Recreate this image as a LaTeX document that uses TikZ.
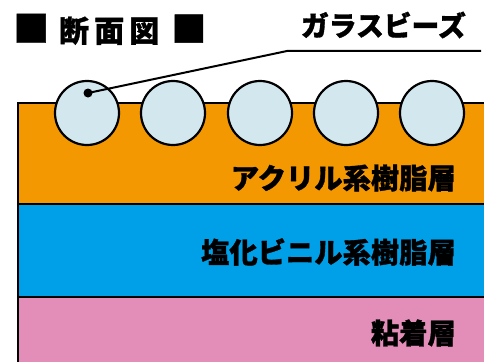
\documentclass[tikz,border=0pt]{standalone}
\usepackage{fontspec}
\newfontfamily\jpfont{Noto Sans CJK JP}[BoldFeatures={FakeBold=1.2}]
\definecolor{acryl}{HTML}{F39800}
\definecolor{vinyl}{HTML}{00A0E9}
\definecolor{adhesive}{HTML}{E38DB9}
\definecolor{glass}{HTML}{D3E7EF}

\begin{document}
\begin{tikzpicture}[x=1pt,y=-1pt,
  layer/.style={draw=black,line width=2pt},
  bead/.style={shape=circle,draw=black,fill=glass,line width=2.2pt,minimum size=64pt,inner sep=0pt},
  layertext/.style={anchor=east,inner sep=0pt,font=\jpfont\bfseries\fontsize{28.3}{28.3}\selectfont}]
\clip (0,0) rectangle (484,361);
\fill[white] (0,0) rectangle (484,361);

\filldraw[layer,fill=acryl] (18,103) rectangle (500,204);
\filldraw[layer,fill=vinyl] (18,204) rectangle (500,297);
\filldraw[layer,fill=adhesive] (18,297) rectangle (500,380);

\node[layertext] (acryltext) at (456,178) {アクリル系樹脂層};
\node[layertext] (vinyltext) at (456,252) {塩化ビニル系樹脂層};
\node[layertext] (adhesivetext) at (456,333) {粘着層};

\node[bead] (1) at (87,113) {};
\node[bead] (2) at (173,113) {};
\node[bead] (3) at (260,113) {};
\node[bead] (4) at (346,113) {};
\node[bead] (5) at (432,113) {};

\node[shape=circle,fill=black,minimum size=9pt,inner sep=0pt] (dot) at (88,93) {};
\coordinate (bend) at (287,51);
\coordinate (lineend) at (481,51);
\draw[line width=2pt] (dot.center) -- (bend) -- (lineend);

\node[layertext,font=\jpfont\bfseries\fontsize{27.8}{27.8}\selectfont] (beadtext) at (466,25) {ガラスビーズ};
\node[anchor=base west,inner sep=0pt,font=\jpfont\bfseries\fontsize{30}{30}\selectfont] (title) at (13,42)
  {{\fontsize{36}{36}\selectfont ■}\hspace{10pt}{\addfontfeature{LetterSpace=17}断面図}\hspace{12pt}{\fontsize{35}{35}\selectfont ■}};
\end{tikzpicture}
\end{document}
